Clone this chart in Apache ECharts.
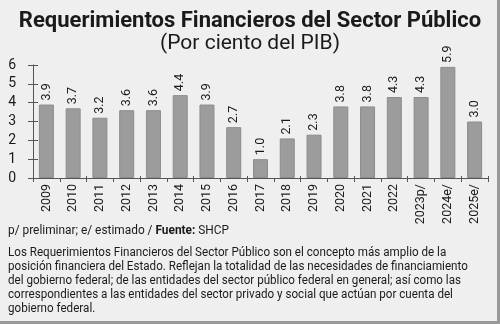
<!DOCTYPE html>
<html><head><meta charset="utf-8">
<script src="https://cdn.jsdelivr.net/npm/echarts@6/dist/echarts.min.js"></script>
<style>html,body{margin:0;padding:0;background:#efefef}#c{width:500px;height:324px}</style>
</head><body><div id="c"></div>
<script>
const categories = ['2009','2010','2011','2012','2013','2014','2015','2016','2017','2018','2019','2020','2021','2022','2023p/','2024e/','2025e/'];
const values = [3.9,3.7,3.2,3.6,3.6,4.4,3.9,2.7,1.0,2.1,2.3,3.8,3.8,4.3,4.3,5.9,3.0];
const yTicks = [0,1,2,3,4,5,6];
const titleText = 'Requerimientos Financieros del Sector Público';
const subtitleText = '(Por ciento del PIB)';
const noteText = 'p/ preliminar; e/ estimado / ';
const sourceLabel = 'Fuente:';
const sourceText = ' SHCP';
const paragraph = [
 'Los Requerimientos Financieros del Sector Público son el concepto más amplio de la',
 'posición financiera del Estado. Reflejan la totalidad de las necesidades de financiamiento',
 'del gobierno federal; de las entidades del sector público federal en general; así como las',
 'correspondientes a las entidades del sector privado y social que actúan por cuenta del',
 'gobierno federal.'
];
const FONT = 'Roboto, "Liberation Sans", sans-serif';
const chart = echarts.init(document.getElementById('c'), null, {renderer:'canvas'});
const axisColor = '#555';
chart.setOption({
  backgroundColor: '#efefef',
  animation: false,
  textStyle: {fontFamily: FONT},
  title: {
    text: titleText, subtext: subtitleText, left: 'center', top: 5, itemGap: 1,
    textStyle: {fontFamily: FONT, fontSize: 22, fontWeight: 'bold', color: '#1a1a1a'},
    subtextStyle: {fontFamily: FONT, fontSize: 21, color: '#1a1a1a'}
  },
  grid: {left: 33, right: 12, top: 65, bottom: 146, containLabel: false},
  xAxis: [{
    type: 'category', data: categories,
    axisLine: {lineStyle: {color: axisColor}},
    axisTick: {show: true, length: 4, lineStyle: {color: axisColor}},
    axisLabel: {rotate: 90, fontSize: 12.5, color: '#1a1a1a', margin: 6, fontFamily: FONT}
  },{
    type: 'category', data: categories, position: 'bottom',
    axisLine: {show: false},
    axisTick: {show: true, inside: true, length: 2, lineStyle: {color: axisColor}},
    axisLabel: {show: false}
  }],
  yAxis: [{
    type: 'value', min: 0, max: 6, interval: 1,
    splitLine: {show: false},
    axisLine: {show: true, lineStyle: {color: axisColor}},
    axisTick: {show: true, length: 5, lineStyle: {color: axisColor}},
    axisLabel: {fontSize: 14, color: '#1a1a1a', margin: 17, fontFamily: FONT,
      formatter: v => yTicks.includes(v) ? String(v) : ''}
  },{
    type: 'value', min: 0, max: 6, interval: 1, position: 'left',
    splitLine: {show: false},
    axisLine: {show: false},
    axisTick: {show: true, inside: true, length: 5, lineStyle: {color: axisColor}},
    axisLabel: {show: false}
  }],
  series: [{
    type: 'bar', data: values, barWidth: 15, xAxisIndex: 0, yAxisIndex: 0,
    itemStyle: {color: '#9c9c9c', borderColor: '#8c8c8c', borderWidth: 1},
    label: {show: true, position: 'top', rotate: 90, align: 'left', verticalAlign: 'middle',
      distance: 4, fontSize: 12.5, color: '#1a1a1a', fontFamily: FONT,
      formatter: p => p.value.toFixed(1)}
  }],
  graphic: [
    {type: 'text', x: 8, y: 224, scaleX: 0.95, style: {
      text: '{n|' + noteText + '}{b|' + sourceLabel + '}{n|' + sourceText + '}',
      rich: {n: {fontSize: 12.5, fill: '#1a1a1a', fontFamily: FONT},
             b: {fontSize: 12.5, fontWeight: 'bold', fill: '#1a1a1a', fontFamily: FONT}}}},
    {type: 'text', x: 8, y: 246, scaleX: 0.93, style: {
      text: paragraph.join('\n'), fontSize: 12.5, lineHeight: 14, fill: '#1a1a1a', fontFamily: FONT}},
    {type: 'rect', shape: {x: 497, y: 0, width: 3, height: 324}, style: {fill: '#9a9a9a'}},
    {type: 'rect', shape: {x: 0, y: 321, width: 500, height: 3}, style: {fill: '#9a9a9a'}}
  ]
});
</script></body></html>
